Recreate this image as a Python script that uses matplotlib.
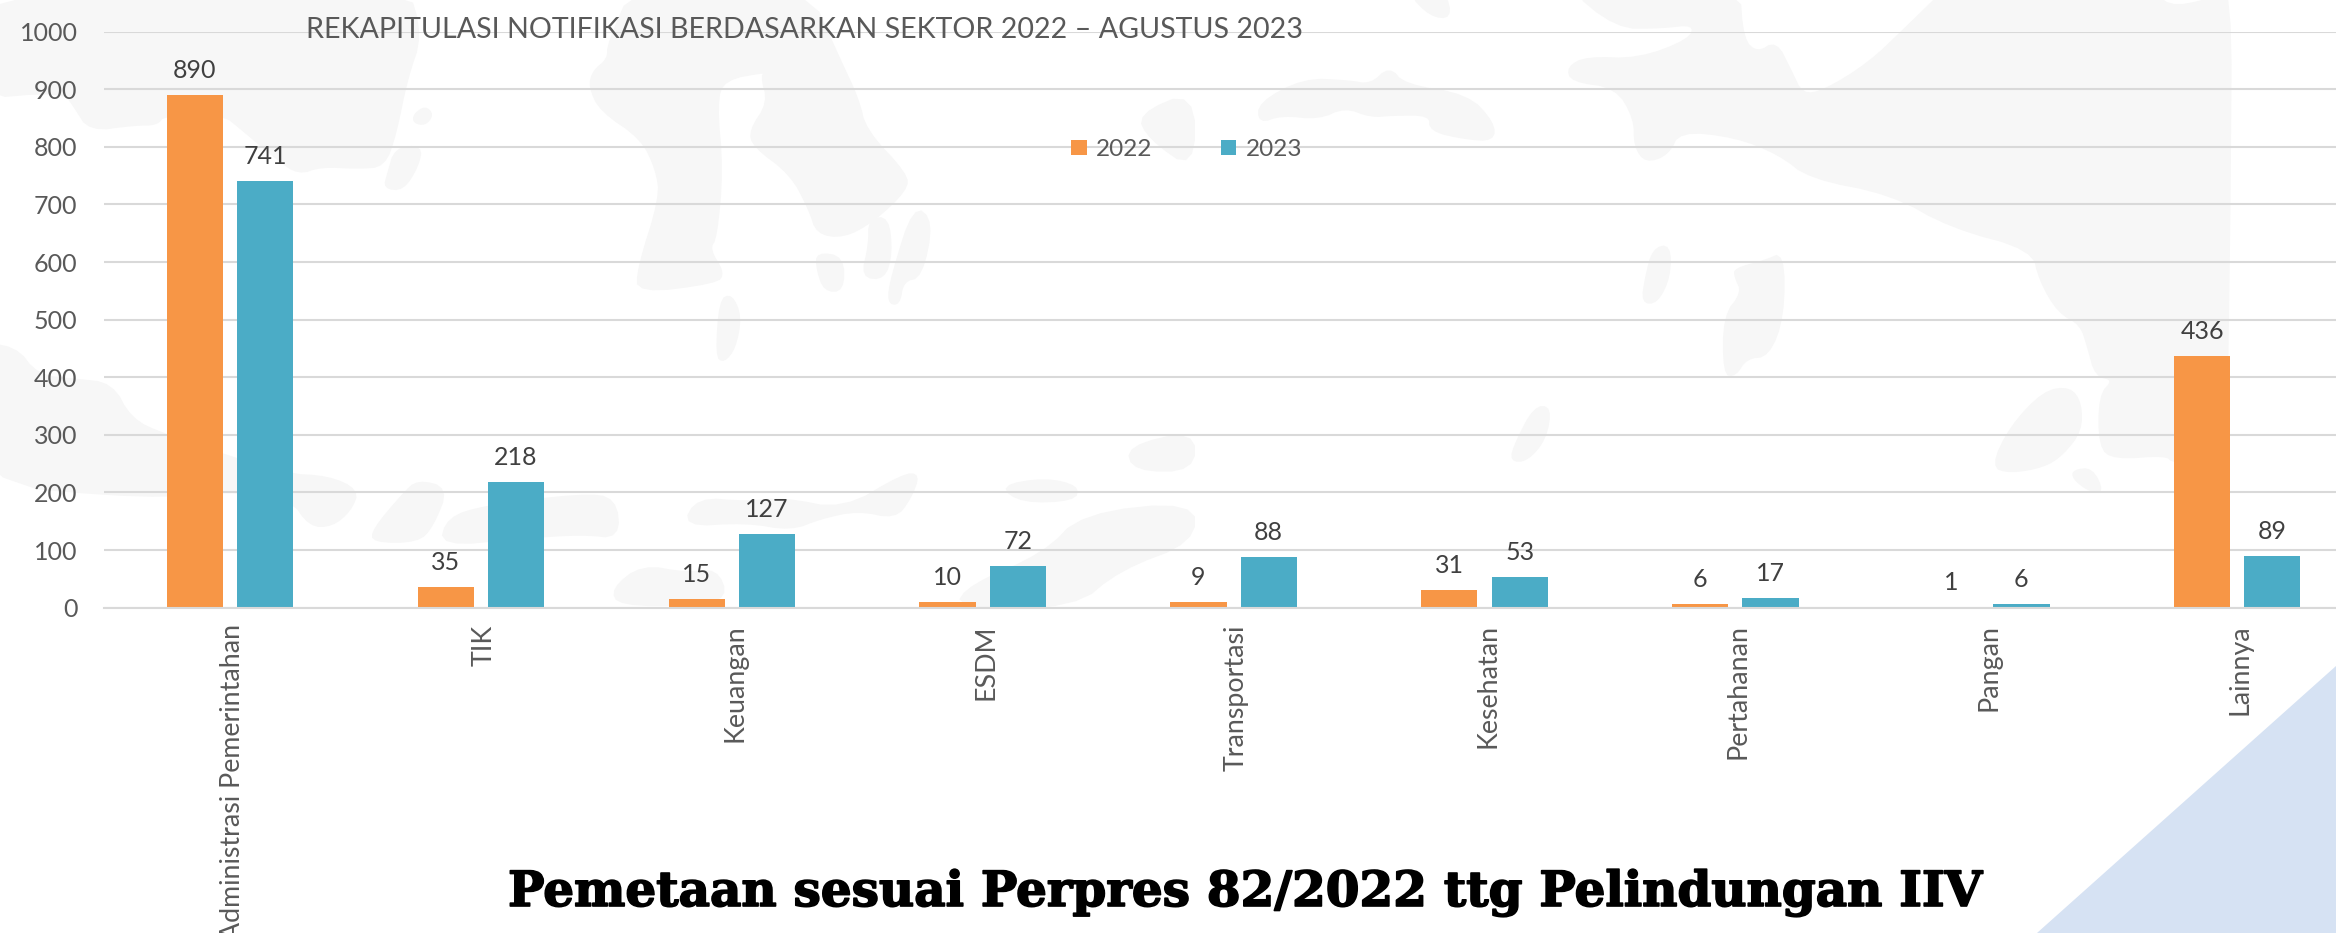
import numpy as np
import matplotlib
matplotlib.use("Agg")
import matplotlib.pyplot as plt
import matplotlib.patheffects as pe
from matplotlib.patches import Polygon
from matplotlib.transforms import Affine2D, ScaledTranslation

categories = ["Administrasi Pemerintahan", "TIK", "Keuangan", "ESDM", "Transportasi",
              "Kesehatan", "Pertahanan", "Pangan", "Lainnya"]
values_2022 = [890, 35, 15, 10, 9, 31, 6, 1, 436]
values_2023 = [741, 218, 127, 72, 88, 53, 17, 6, 89]
y_ticks = list(range(0, 1001, 100))
chart_title = "REKAPITULASI NOTIFIKASI BERDASARKAN SEKTOR 2022 – AGUSTUS 2023"
footer_title = "Pemetaan sesuai Perpres 82/2022 ttg Pelindungan IIV"

ORANGE, TEAL = "#F79646", "#4BACC6"
GRID, MAPC, TRI = "#D9D9D9", "#F7F7F7", "#D6E2F3"
W, H = 2336, 933
plt.rcParams["font.family"] = ["Lato", "DejaVu Sans"]

fig = plt.figure(figsize=(W / 100, H / 100), dpi=100, facecolor="white")
px = Affine2D().scale(1, -1).translate(0, H)

# background watermark map (outline traced in zoomed crops)
left_map = [
 [(-40,-40),(545,-40),(565,90),(545,200),(530,340),(515,420),(480,425),(430,420),(400,440),(370,400),(320,320),(300,290),(220,290),(210,315),(180,315),(120,330),(100,270),(85,230),(-40,250)],
 [(555,290),(570,270),(580,290),(570,315),(555,310)],
 [(530,375),(565,370),(560,420),(540,480),(515,475),(520,440)],
 [(815,110),(850,-40),(1080,-40),(1125,150),(1150,250),(1160,330),(1215,440),(1215,480),(1170,560),(1130,600),(1095,590),(1085,530),(1060,440),(1010,370),(1005,330),(1030,260),(1020,190),(1030,180),(970,200),(960,260),(968,430),(960,600),(950,630),(970,690),(960,715),(855,740),(855,680),(885,500),(880,430),(860,350),(805,280),(790,220),(795,180),(815,150)],
 [(1165,555),(1190,550),(1195,640),(1185,705),(1155,700),(1165,620)],
 [(1095,640),(1130,650),(1130,735),(1105,735),(1095,680)],
 [(1195,700),(1225,520),(1250,560),(1235,700),(1210,710),(1205,770),(1190,765)],
 [(965,760),(980,745),(993,800),(985,880),(970,915),(960,900)],
 [(-40,870),(20,875),(50,950),(100,960),(150,970),(175,1060),(220,1100),(380,1200),(440,1205),(480,1240),(470,1290),(445,1330),(415,1330),(390,1260),(300,1240),(200,1260),(-40,1220)],
 [(500,1340),(540,1250),(560,1215),(600,1235),(580,1330),(560,1370),(500,1370)],
 [(600,1310),(650,1280),(780,1250),(825,1260),(830,1360),(780,1350),(700,1360),(590,1380)],
 [(915,1330),(935,1260),(1000,1270),(1050,1260),(1130,1290),(1210,1200),(1232,1200),(1220,1260),(1200,1310),(1150,1290),(1100,1310),(1060,1340),(1000,1320)],
 [(1340,1230),(1400,1210),(1445,1230),(1440,1265),(1370,1270)],
 [(820,1490),(860,1430),(920,1450),(960,1440),(975,1510),(930,1530),(830,1530)],
 [(1280,1536),(1300,1480),(1400,1400),(1450,1300),(1600,1270),(1600,1370),(1500,1440),(1440,1536)],
 [(1510,1130),(1600,1090),(1600,1190),(1520,1190)],
 [(1525,290),(1600,230),(1600,430),(1540,350)],
]
right_map = [
 [(120,260),(180,200),(240,205),(270,215),(295,170),(315,215),(400,240),(435,310),(435,355),(395,350),(350,330),(350,290),(300,290),(270,295),(235,270),(200,300),(150,290),(120,310)],
 [(320,-20),(370,-20),(378,45),(350,40)],
 [(530,-40),(765,-40),(770,100),(790,135),(815,105),(835,180),(850,240),(880,230),(940,160),(990,70),(1050,-40),(1320,-40),(1340,20),(1400,0),(1427,-40),(1425,500),(1422,900),(1420,1170),(1349,1170),(1340,1150),(1270,1160),(1250,1130),(1250,1000),(1270,960),(1245,950),(1235,880),(1225,820),(1195,790),(1170,710),(1160,630),(1050,575),(970,490),(860,450),(820,390),(760,345),(685,330),(670,390),(640,410),(625,370),(625,300),(600,220),(540,205),(535,170),(560,145),(630,150),(700,100),(705,60),(660,70),(600,70)],
 [(650,630),(672,620),(672,700),(655,765),(635,765),(640,700)],
 [(760,680),(800,660),(825,640),(825,800),(805,900),(775,905),(760,950),(745,945),(745,800),(770,740),(760,700)],
 [(490,1030),(512,1030),(505,1110),(480,1165),(458,1165),(465,1120)],
 [(1105,1180),(1130,1080),(1175,990),(1210,980),(1225,1020),(1225,1090),(1200,1150),(1175,1180),(1130,1195)],
 [(1215,1190),(1240,1185),(1255,1245),(1235,1240),(1215,1210)],
]

def chaikin(p, n=2):
    p = np.asarray(p, float)
    for _ in range(n):
        q = np.roll(p, -1, axis=0)
        p = np.column_stack([0.75 * p + 0.25 * q, 0.25 * p + 0.75 * q]).reshape(-1, 2)
    return p

for shape in left_map:
    pts = chaikin(shape) / [1568 / 1170, 1568 / 620]
    fig.add_artist(Polygon(pts, closed=True, fc=MAPC, ec=MAPC, lw=1.5, transform=px, zorder=-2))
for shape in right_map:
    pts = chaikin(shape) / [1568 / 1166, 1568 / 620] + [1170, 0]
    fig.add_artist(Polygon(pts, closed=True, fc=MAPC, ec=MAPC, lw=1.5, transform=px, zorder=-2))

fig.add_artist(Polygon([(W, 666), (W, H), (2037, H)], closed=True, fc=TRI, ec="none",
                       transform=px, zorder=-1))

# axes occupy pixels x 104..2336, y 31.6..607.6
ax = fig.add_axes([104 / W, 1 - 607.6 / H, (W - 104) / W, 576 / H], facecolor="none")
x = np.arange(len(categories))
off, bw = 0.14, 0.224
b1 = ax.bar(x - off, values_2022, bw, color=ORANGE, label="2022")
b2 = ax.bar(x + off, values_2023, bw, color=TEAL, label="2023")
ax.set_xlim((104 - 230) / 250.9, (W - 230) / 250.9)
ax.set_ylim(0, 1000)
ax.set_yticks(y_ticks)
ax.set_xticks(x)
ax.set_xticklabels(categories, rotation=90, va="top", ha="center", fontsize=19.3, color="#595959")
ax.tick_params(axis="x", length=0, pad=12)
ax.tick_params(axis="y", length=0, pad=19, labelsize=18, labelcolor="#595959")
shift = ScaledTranslation(3 / 100, 0, fig.dpi_scale_trans)
for lab in ax.get_xticklabels():
    lab.set_transform(lab.get_transform() + shift)
ax.set_axisbelow(True)
ax.grid(axis="y", color=GRID, lw=1.5)
for s in ("top", "left", "right"):
    ax.spines[s].set_visible(False)
ax.spines["bottom"].set_color(GRID)
ax.spines["bottom"].set_linewidth(1.5)

for bars in (b1, b2):
    ax.bar_label(bars, padding=9.5, fontsize=18, color="#404040")

leg = ax.legend(loc="center", bbox_to_anchor=((1187 - 104) / (W - 104), 1 - (149.5 - 31.6) / 576),
                ncol=2, frameon=False, fontsize=17.5, handlelength=0.62, handleheight=0.55,
                handletextpad=0.4, columnspacing=2.82, borderpad=0, labelcolor="#595959")

fig.text(804 / W, 1 - 30.5 / H, chart_title, fontsize=20.6, color="#595959", ha="center", va="center")
fig.text(1246 / W, 1 - 906 / H, footer_title, fontsize=34.9, color="black", ha="center", va="baseline",
         family="DejaVu Serif", weight="bold",
         path_effects=[pe.withStroke(linewidth=1.2, foreground="black")])

fig.savefig("out.png", dpi=100, facecolor="white")
